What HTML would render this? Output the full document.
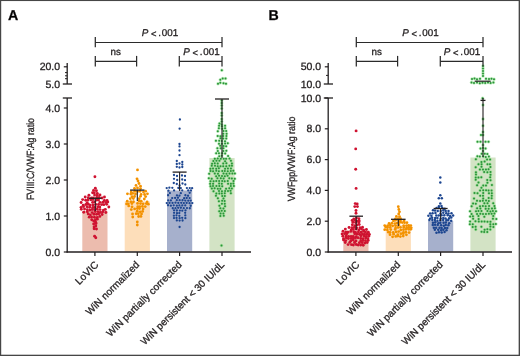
<!DOCTYPE html>
<html><head><meta charset="utf-8"><style>
html,body{margin:0;padding:0;background:#fff;width:520px;height:356px;overflow:hidden}
svg{display:block;will-change:transform}
text{font-family:"Liberation Sans", sans-serif;text-rendering:geometricPrecision;stroke:#231f20;stroke-width:0.3px}
</style></head><body>
<svg width="520" height="356" viewBox="0 0 520 356"><rect x="0" y="0" width="520" height="356" fill="#fff"/><text x="7.9" y="19.9" font-family="'Liberation Sans', sans-serif" font-size="14.2" text-anchor="start" font-weight="bold" fill="#000">A</text><text x="34.0" y="159" font-family="'Liberation Sans', sans-serif" font-size="10.4" text-anchor="middle" font-weight="normal" fill="#231f20" textLength="82" lengthAdjust="spacingAndGlyphs" transform="rotate(-90 34.0 159)">FVIII:C/VWF:Ag ratio</text><rect x="82.30" y="211" width="25.2" height="40.50" fill="#ecbcae"/><rect x="124.70" y="201.5" width="25.2" height="50.00" fill="#fddeba"/><rect x="167.00" y="190.5" width="25.2" height="61.00" fill="#a6b0cc"/><rect x="209.40" y="158" width="25.2" height="93.50" fill="#d3e3c5"/><g fill="#cf1230"><circle cx="95.32" cy="188.32" r="1.45"/><circle cx="93.54" cy="190.34" r="1.45"/><circle cx="96.43" cy="190.75" r="1.45"/><circle cx="92.60" cy="192.72" r="1.45"/><circle cx="94.30" cy="192.73" r="1.45"/><circle cx="97.27" cy="193.33" r="1.45"/><circle cx="88.93" cy="195.25" r="1.45"/><circle cx="94.56" cy="195.11" r="1.45"/><circle cx="97.27" cy="195.13" r="1.45"/><circle cx="99.98" cy="194.88" r="1.45"/><circle cx="85.20" cy="197.03" r="1.45"/><circle cx="88.22" cy="197.77" r="1.45"/><circle cx="91.44" cy="198.03" r="1.45"/><circle cx="93.35" cy="197.87" r="1.45"/><circle cx="96.77" cy="197.51" r="1.45"/><circle cx="99.15" cy="197.36" r="1.45"/><circle cx="102.11" cy="198.02" r="1.45"/><circle cx="104.46" cy="197.04" r="1.45"/><circle cx="82.65" cy="199.61" r="1.45"/><circle cx="85.69" cy="200.21" r="1.45"/><circle cx="88.08" cy="200.01" r="1.45"/><circle cx="90.88" cy="199.87" r="1.45"/><circle cx="92.99" cy="199.45" r="1.45"/><circle cx="96.83" cy="200.11" r="1.45"/><circle cx="98.55" cy="200.00" r="1.45"/><circle cx="104.40" cy="200.43" r="1.45"/><circle cx="107.07" cy="200.54" r="1.45"/><circle cx="81.12" cy="202.46" r="1.45"/><circle cx="87.14" cy="202.78" r="1.45"/><circle cx="92.57" cy="202.42" r="1.45"/><circle cx="94.81" cy="201.87" r="1.45"/><circle cx="99.94" cy="202.41" r="1.45"/><circle cx="102.83" cy="202.22" r="1.45"/><circle cx="105.85" cy="202.53" r="1.45"/><circle cx="107.83" cy="202.08" r="1.45"/><circle cx="83.18" cy="205.16" r="1.45"/><circle cx="85.83" cy="204.51" r="1.45"/><circle cx="88.36" cy="204.30" r="1.45"/><circle cx="90.27" cy="205.11" r="1.45"/><circle cx="93.08" cy="204.95" r="1.45"/><circle cx="95.73" cy="204.39" r="1.45"/><circle cx="98.55" cy="204.53" r="1.45"/><circle cx="101.60" cy="204.59" r="1.45"/><circle cx="103.78" cy="204.66" r="1.45"/><circle cx="106.68" cy="204.33" r="1.45"/><circle cx="81.05" cy="207.33" r="1.45"/><circle cx="83.52" cy="206.62" r="1.45"/><circle cx="87.06" cy="206.79" r="1.45"/><circle cx="89.71" cy="207.25" r="1.45"/><circle cx="92.77" cy="207.56" r="1.45"/><circle cx="94.57" cy="207.38" r="1.45"/><circle cx="97.69" cy="206.99" r="1.45"/><circle cx="99.77" cy="206.96" r="1.45"/><circle cx="108.83" cy="206.97" r="1.45"/><circle cx="81.30" cy="209.30" r="1.45"/><circle cx="84.55" cy="209.05" r="1.45"/><circle cx="87.35" cy="209.68" r="1.45"/><circle cx="89.94" cy="210.17" r="1.45"/><circle cx="92.21" cy="209.45" r="1.45"/><circle cx="94.55" cy="209.81" r="1.45"/><circle cx="97.23" cy="209.13" r="1.45"/><circle cx="100.06" cy="209.60" r="1.45"/><circle cx="103.45" cy="210.08" r="1.45"/><circle cx="105.34" cy="209.39" r="1.45"/><circle cx="83.76" cy="212.21" r="1.45"/><circle cx="87.32" cy="211.81" r="1.45"/><circle cx="92.18" cy="212.58" r="1.45"/><circle cx="95.17" cy="211.50" r="1.45"/><circle cx="98.09" cy="211.66" r="1.45"/><circle cx="100.42" cy="212.41" r="1.45"/><circle cx="102.81" cy="211.75" r="1.45"/><circle cx="105.82" cy="212.55" r="1.45"/><circle cx="88.21" cy="213.93" r="1.45"/><circle cx="90.34" cy="214.84" r="1.45"/><circle cx="93.94" cy="214.21" r="1.45"/><circle cx="96.59" cy="214.25" r="1.45"/><circle cx="98.62" cy="213.90" r="1.45"/><circle cx="102.12" cy="214.48" r="1.45"/><circle cx="89.23" cy="217.14" r="1.45"/><circle cx="91.61" cy="217.00" r="1.45"/><circle cx="94.44" cy="217.26" r="1.45"/><circle cx="97.29" cy="217.39" r="1.45"/><circle cx="99.84" cy="216.40" r="1.45"/><circle cx="91.72" cy="219.69" r="1.45"/><circle cx="95.46" cy="219.69" r="1.45"/><circle cx="97.30" cy="219.17" r="1.45"/><circle cx="93.73" cy="221.05" r="1.45"/><circle cx="95.66" cy="222.18" r="1.45"/><circle cx="93.67" cy="223.94" r="1.45"/><circle cx="96.03" cy="223.48" r="1.45"/><circle cx="94.11" cy="226.96" r="1.45"/><circle cx="95.78" cy="226.06" r="1.45"/><circle cx="94.13" cy="228.85" r="1.45"/><circle cx="96.48" cy="228.99" r="1.45"/><circle cx="94.90" cy="176.70" r="1.45"/><circle cx="94.60" cy="236.30" r="1.45"/><circle cx="95.80" cy="237.80" r="1.45"/></g><g fill="#f39200"><circle cx="131.20" cy="191.90" r="1.4"/><circle cx="134.70" cy="191.27" r="1.4"/><circle cx="137.43" cy="191.60" r="1.4"/><circle cx="140.02" cy="191.37" r="1.4"/><circle cx="143.49" cy="192.04" r="1.4"/><circle cx="145.63" cy="191.22" r="1.4"/><circle cx="127.46" cy="193.78" r="1.4"/><circle cx="130.77" cy="194.03" r="1.4"/><circle cx="132.78" cy="193.43" r="1.4"/><circle cx="135.46" cy="194.01" r="1.4"/><circle cx="141.12" cy="194.47" r="1.4"/><circle cx="144.58" cy="194.49" r="1.4"/><circle cx="147.45" cy="193.82" r="1.4"/><circle cx="132.00" cy="196.76" r="1.4"/><circle cx="134.54" cy="196.49" r="1.4"/><circle cx="140.50" cy="196.32" r="1.4"/><circle cx="145.65" cy="196.58" r="1.4"/><circle cx="130.28" cy="198.67" r="1.4"/><circle cx="133.34" cy="198.60" r="1.4"/><circle cx="139.19" cy="198.77" r="1.4"/><circle cx="144.31" cy="199.02" r="1.4"/><circle cx="127.27" cy="201.15" r="1.4"/><circle cx="130.82" cy="201.65" r="1.4"/><circle cx="133.48" cy="201.77" r="1.4"/><circle cx="138.99" cy="200.97" r="1.4"/><circle cx="141.23" cy="201.17" r="1.4"/><circle cx="147.13" cy="201.92" r="1.4"/><circle cx="126.56" cy="203.91" r="1.4"/><circle cx="128.34" cy="203.83" r="1.4"/><circle cx="131.91" cy="203.50" r="1.4"/><circle cx="137.58" cy="203.43" r="1.4"/><circle cx="140.48" cy="203.59" r="1.4"/><circle cx="143.13" cy="203.86" r="1.4"/><circle cx="146.29" cy="203.58" r="1.4"/><circle cx="148.31" cy="204.14" r="1.4"/><circle cx="128.70" cy="205.94" r="1.4"/><circle cx="132.02" cy="206.79" r="1.4"/><circle cx="137.73" cy="206.75" r="1.4"/><circle cx="139.77" cy="206.69" r="1.4"/><circle cx="142.42" cy="206.44" r="1.4"/><circle cx="145.25" cy="206.60" r="1.4"/><circle cx="131.27" cy="209.55" r="1.4"/><circle cx="134.63" cy="208.90" r="1.4"/><circle cx="137.37" cy="208.57" r="1.4"/><circle cx="139.54" cy="208.59" r="1.4"/><circle cx="143.06" cy="209.01" r="1.4"/><circle cx="137.23" cy="211.20" r="1.4"/><circle cx="140.25" cy="211.86" r="1.4"/><circle cx="142.61" cy="211.41" r="1.4"/><circle cx="132.54" cy="213.89" r="1.4"/><circle cx="136.17" cy="213.69" r="1.4"/><circle cx="138.32" cy="213.68" r="1.4"/><circle cx="141.52" cy="213.96" r="1.4"/><circle cx="132.75" cy="216.99" r="1.4"/><circle cx="138.62" cy="216.51" r="1.4"/><circle cx="140.96" cy="216.40" r="1.4"/><circle cx="137.50" cy="169.90" r="1.4"/><circle cx="137.00" cy="178.80" r="1.4"/><circle cx="138.00" cy="181.00" r="1.4"/><circle cx="139.00" cy="183.50" r="1.4"/><circle cx="136.00" cy="185.40" r="1.4"/><circle cx="140.50" cy="186.20" r="1.4"/><circle cx="134.50" cy="188.30" r="1.4"/><circle cx="137.50" cy="188.00" r="1.4"/><circle cx="140.50" cy="188.60" r="1.4"/><circle cx="137.30" cy="222.00" r="1.4"/><circle cx="137.30" cy="225.00" r="1.4"/></g><g fill="#1d4690"><circle cx="166.70" cy="188.06" r="1.15"/><circle cx="169.36" cy="187.71" r="1.15"/><circle cx="172.33" cy="187.84" r="1.15"/><circle cx="178.38" cy="187.99" r="1.15"/><circle cx="180.82" cy="188.08" r="1.15"/><circle cx="186.87" cy="188.10" r="1.15"/><circle cx="189.73" cy="188.05" r="1.15"/><circle cx="192.14" cy="188.22" r="1.15"/><circle cx="168.43" cy="190.63" r="1.15"/><circle cx="174.08" cy="190.47" r="1.15"/><circle cx="182.23" cy="190.33" r="1.15"/><circle cx="188.23" cy="190.38" r="1.15"/><circle cx="190.93" cy="190.41" r="1.15"/><circle cx="169.87" cy="193.11" r="1.15"/><circle cx="180.82" cy="193.22" r="1.15"/><circle cx="189.70" cy="192.83" r="1.15"/><circle cx="168.07" cy="195.24" r="1.15"/><circle cx="176.93" cy="195.45" r="1.15"/><circle cx="179.48" cy="195.66" r="1.15"/><circle cx="185.37" cy="195.23" r="1.15"/><circle cx="188.05" cy="195.73" r="1.15"/><circle cx="172.22" cy="198.06" r="1.15"/><circle cx="175.14" cy="197.94" r="1.15"/><circle cx="177.97" cy="197.73" r="1.15"/><circle cx="184.15" cy="198.24" r="1.15"/><circle cx="186.70" cy="198.01" r="1.15"/><circle cx="189.63" cy="198.04" r="1.15"/><circle cx="168.20" cy="200.46" r="1.15"/><circle cx="170.89" cy="200.38" r="1.15"/><circle cx="176.78" cy="200.21" r="1.15"/><circle cx="179.65" cy="200.21" r="1.15"/><circle cx="182.53" cy="200.24" r="1.15"/><circle cx="185.28" cy="200.61" r="1.15"/><circle cx="188.27" cy="200.64" r="1.15"/><circle cx="190.74" cy="200.61" r="1.15"/><circle cx="166.75" cy="203.06" r="1.15"/><circle cx="169.54" cy="202.89" r="1.15"/><circle cx="172.53" cy="202.88" r="1.15"/><circle cx="175.49" cy="202.72" r="1.15"/><circle cx="178.32" cy="202.89" r="1.15"/><circle cx="181.21" cy="202.84" r="1.15"/><circle cx="183.84" cy="203.12" r="1.15"/><circle cx="186.62" cy="202.90" r="1.15"/><circle cx="189.54" cy="203.21" r="1.15"/><circle cx="192.33" cy="203.09" r="1.15"/><circle cx="168.04" cy="205.27" r="1.15"/><circle cx="170.86" cy="205.68" r="1.15"/><circle cx="173.71" cy="205.37" r="1.15"/><circle cx="176.84" cy="205.68" r="1.15"/><circle cx="179.38" cy="205.38" r="1.15"/><circle cx="182.31" cy="205.41" r="1.15"/><circle cx="185.25" cy="205.45" r="1.15"/><circle cx="190.70" cy="205.77" r="1.15"/><circle cx="172.75" cy="208.26" r="1.15"/><circle cx="175.47" cy="208.20" r="1.15"/><circle cx="178.19" cy="207.87" r="1.15"/><circle cx="180.86" cy="207.74" r="1.15"/><circle cx="183.75" cy="208.19" r="1.15"/><circle cx="186.97" cy="208.12" r="1.15"/><circle cx="189.81" cy="208.24" r="1.15"/><circle cx="174.05" cy="210.30" r="1.15"/><circle cx="176.85" cy="210.51" r="1.15"/><circle cx="179.86" cy="210.57" r="1.15"/><circle cx="182.30" cy="210.72" r="1.15"/><circle cx="185.47" cy="210.41" r="1.15"/><circle cx="174.09" cy="212.80" r="1.15"/><circle cx="177.00" cy="213.18" r="1.15"/><circle cx="179.30" cy="213.08" r="1.15"/><circle cx="185.16" cy="212.86" r="1.15"/><circle cx="173.88" cy="215.67" r="1.15"/><circle cx="176.48" cy="215.28" r="1.15"/><circle cx="179.34" cy="215.78" r="1.15"/><circle cx="185.30" cy="215.39" r="1.15"/><circle cx="173.99" cy="218.05" r="1.15"/><circle cx="176.56" cy="217.90" r="1.15"/><circle cx="179.63" cy="218.13" r="1.15"/><circle cx="182.20" cy="217.81" r="1.15"/><circle cx="185.36" cy="218.17" r="1.15"/><circle cx="176.82" cy="220.46" r="1.15"/><circle cx="179.60" cy="220.62" r="1.15"/><circle cx="182.57" cy="220.48" r="1.15"/><circle cx="179.90" cy="119.50" r="1.15"/><circle cx="179.60" cy="128.70" r="1.15"/><circle cx="179.50" cy="144.00" r="1.15"/><circle cx="179.50" cy="146.40" r="1.15"/><circle cx="179.50" cy="150.50" r="1.15"/><circle cx="179.50" cy="155.20" r="1.15"/><circle cx="176.80" cy="161.00" r="1.15"/><circle cx="176.80" cy="164.00" r="1.15"/><circle cx="176.80" cy="166.80" r="1.15"/><circle cx="179.50" cy="163.50" r="1.15"/><circle cx="179.50" cy="167.50" r="1.15"/><circle cx="182.30" cy="162.00" r="1.15"/><circle cx="182.30" cy="164.50" r="1.15"/><circle cx="182.30" cy="167.00" r="1.15"/><circle cx="174.00" cy="175.00" r="1.15"/><circle cx="177.00" cy="176.00" r="1.15"/><circle cx="182.00" cy="175.50" r="1.15"/><circle cx="185.00" cy="176.00" r="1.15"/><circle cx="174.00" cy="178.80" r="1.15"/><circle cx="177.20" cy="180.00" r="1.15"/><circle cx="182.20" cy="179.50" r="1.15"/><circle cx="185.00" cy="180.20" r="1.15"/><circle cx="173.80" cy="183.00" r="1.15"/><circle cx="176.80" cy="184.00" r="1.15"/><circle cx="182.50" cy="183.50" r="1.15"/><circle cx="185.30" cy="184.50" r="1.15"/><circle cx="179.60" cy="185.50" r="1.15"/><circle cx="179.60" cy="227.00" r="1.15"/></g><g fill="#7ddb7d" opacity="0.5"><circle cx="219.04" cy="125.79" r="1.75"/><circle cx="221.94" cy="126.25" r="1.75"/><circle cx="225.06" cy="125.83" r="1.75"/><circle cx="218.90" cy="128.26" r="1.75"/><circle cx="222.26" cy="128.70" r="1.75"/><circle cx="225.08" cy="128.32" r="1.75"/><circle cx="217.79" cy="131.21" r="1.75"/><circle cx="223.51" cy="131.10" r="1.75"/><circle cx="226.16" cy="130.98" r="1.75"/><circle cx="223.33" cy="133.75" r="1.75"/><circle cx="226.58" cy="133.71" r="1.75"/><circle cx="217.71" cy="135.96" r="1.75"/><circle cx="220.43" cy="136.19" r="1.75"/><circle cx="223.18" cy="136.08" r="1.75"/><circle cx="226.37" cy="135.98" r="1.75"/><circle cx="220.50" cy="138.32" r="1.75"/><circle cx="223.32" cy="138.41" r="1.75"/><circle cx="226.24" cy="138.54" r="1.75"/><circle cx="215.94" cy="140.84" r="1.75"/><circle cx="219.17" cy="140.84" r="1.75"/><circle cx="221.81" cy="140.98" r="1.75"/><circle cx="225.02" cy="141.24" r="1.75"/><circle cx="218.97" cy="143.78" r="1.75"/><circle cx="221.95" cy="143.77" r="1.75"/><circle cx="225.09" cy="143.38" r="1.75"/><circle cx="227.77" cy="143.28" r="1.75"/><circle cx="220.26" cy="145.73" r="1.75"/><circle cx="223.62" cy="145.92" r="1.75"/><circle cx="226.11" cy="146.29" r="1.75"/><circle cx="217.39" cy="148.23" r="1.75"/><circle cx="220.66" cy="148.29" r="1.75"/><circle cx="223.44" cy="148.35" r="1.75"/><circle cx="217.81" cy="150.95" r="1.75"/><circle cx="223.30" cy="150.95" r="1.75"/><circle cx="226.30" cy="150.85" r="1.75"/><circle cx="216.20" cy="153.22" r="1.75"/><circle cx="218.95" cy="153.32" r="1.75"/><circle cx="222.22" cy="153.29" r="1.75"/><circle cx="225.16" cy="153.54" r="1.75"/><circle cx="219.27" cy="156.15" r="1.75"/><circle cx="221.76" cy="155.83" r="1.75"/><circle cx="228.05" cy="155.90" r="1.75"/><circle cx="214.84" cy="158.69" r="1.75"/><circle cx="217.74" cy="158.61" r="1.75"/><circle cx="220.80" cy="158.77" r="1.75"/><circle cx="223.73" cy="158.78" r="1.75"/><circle cx="226.08" cy="158.74" r="1.75"/><circle cx="229.53" cy="158.60" r="1.75"/><circle cx="213.38" cy="161.04" r="1.75"/><circle cx="216.46" cy="160.83" r="1.75"/><circle cx="219.35" cy="160.71" r="1.75"/><circle cx="225.09" cy="161.17" r="1.75"/><circle cx="230.93" cy="160.82" r="1.75"/><circle cx="212.09" cy="163.66" r="1.75"/><circle cx="214.77" cy="163.22" r="1.75"/><circle cx="217.71" cy="163.49" r="1.75"/><circle cx="223.23" cy="163.42" r="1.75"/><circle cx="226.36" cy="163.21" r="1.75"/><circle cx="231.90" cy="163.53" r="1.75"/><circle cx="211.74" cy="165.84" r="1.75"/><circle cx="215.03" cy="165.76" r="1.75"/><circle cx="217.72" cy="166.23" r="1.75"/><circle cx="220.51" cy="166.21" r="1.75"/><circle cx="223.19" cy="166.23" r="1.75"/><circle cx="226.23" cy="166.20" r="1.75"/><circle cx="229.43" cy="165.80" r="1.75"/><circle cx="231.96" cy="165.79" r="1.75"/><circle cx="210.43" cy="168.74" r="1.75"/><circle cx="213.00" cy="168.39" r="1.75"/><circle cx="216.19" cy="168.63" r="1.75"/><circle cx="218.85" cy="168.35" r="1.75"/><circle cx="225.06" cy="168.79" r="1.75"/><circle cx="227.91" cy="168.57" r="1.75"/><circle cx="230.95" cy="168.48" r="1.75"/><circle cx="210.57" cy="171.07" r="1.75"/><circle cx="213.08" cy="171.16" r="1.75"/><circle cx="216.30" cy="170.78" r="1.75"/><circle cx="218.89" cy="171.19" r="1.75"/><circle cx="222.24" cy="170.92" r="1.75"/><circle cx="224.81" cy="171.07" r="1.75"/><circle cx="227.74" cy="171.26" r="1.75"/><circle cx="230.79" cy="170.90" r="1.75"/><circle cx="233.31" cy="170.71" r="1.75"/><circle cx="209.13" cy="173.68" r="1.75"/><circle cx="214.80" cy="173.50" r="1.75"/><circle cx="217.91" cy="173.66" r="1.75"/><circle cx="223.54" cy="173.61" r="1.75"/><circle cx="226.42" cy="173.70" r="1.75"/><circle cx="229.51" cy="173.44" r="1.75"/><circle cx="232.39" cy="173.62" r="1.75"/><circle cx="234.89" cy="173.40" r="1.75"/><circle cx="216.14" cy="176.19" r="1.75"/><circle cx="219.05" cy="175.71" r="1.75"/><circle cx="222.02" cy="176.12" r="1.75"/><circle cx="224.82" cy="176.27" r="1.75"/><circle cx="227.59" cy="175.74" r="1.75"/><circle cx="208.84" cy="178.25" r="1.75"/><circle cx="211.68" cy="178.76" r="1.75"/><circle cx="217.44" cy="178.34" r="1.75"/><circle cx="220.82" cy="178.30" r="1.75"/><circle cx="223.56" cy="178.53" r="1.75"/><circle cx="229.26" cy="178.29" r="1.75"/><circle cx="231.87" cy="178.39" r="1.75"/><circle cx="234.79" cy="178.80" r="1.75"/><circle cx="210.52" cy="181.14" r="1.75"/><circle cx="213.57" cy="181.23" r="1.75"/><circle cx="216.24" cy="181.12" r="1.75"/><circle cx="219.13" cy="181.00" r="1.75"/><circle cx="222.21" cy="180.99" r="1.75"/><circle cx="224.70" cy="181.22" r="1.75"/><circle cx="227.73" cy="181.11" r="1.75"/><circle cx="233.53" cy="180.95" r="1.75"/><circle cx="210.11" cy="183.78" r="1.75"/><circle cx="213.09" cy="183.71" r="1.75"/><circle cx="219.13" cy="183.49" r="1.75"/><circle cx="221.81" cy="183.70" r="1.75"/><circle cx="228.05" cy="183.76" r="1.75"/><circle cx="230.91" cy="183.70" r="1.75"/><circle cx="233.36" cy="183.57" r="1.75"/><circle cx="210.49" cy="186.24" r="1.75"/><circle cx="213.02" cy="186.08" r="1.75"/><circle cx="216.41" cy="186.10" r="1.75"/><circle cx="219.34" cy="186.08" r="1.75"/><circle cx="222.20" cy="186.23" r="1.75"/><circle cx="230.82" cy="186.06" r="1.75"/><circle cx="233.89" cy="185.91" r="1.75"/><circle cx="211.85" cy="188.53" r="1.75"/><circle cx="214.60" cy="188.32" r="1.75"/><circle cx="217.82" cy="188.75" r="1.75"/><circle cx="220.32" cy="188.79" r="1.75"/><circle cx="226.05" cy="188.71" r="1.75"/><circle cx="229.32" cy="188.21" r="1.75"/><circle cx="231.87" cy="188.49" r="1.75"/><circle cx="213.53" cy="191.15" r="1.75"/><circle cx="219.03" cy="191.06" r="1.75"/><circle cx="221.95" cy="191.28" r="1.75"/><circle cx="225.12" cy="190.88" r="1.75"/><circle cx="227.97" cy="191.12" r="1.75"/><circle cx="230.50" cy="190.71" r="1.75"/><circle cx="216.35" cy="193.44" r="1.75"/><circle cx="219.31" cy="193.39" r="1.75"/><circle cx="221.85" cy="193.51" r="1.75"/><circle cx="224.76" cy="193.37" r="1.75"/><circle cx="230.85" cy="193.25" r="1.75"/><circle cx="215.96" cy="195.83" r="1.75"/><circle cx="222.23" cy="196.00" r="1.75"/><circle cx="224.80" cy="195.97" r="1.75"/><circle cx="217.86" cy="198.27" r="1.75"/><circle cx="223.49" cy="198.60" r="1.75"/><circle cx="218.91" cy="201.13" r="1.75"/><circle cx="222.16" cy="200.81" r="1.75"/><circle cx="224.62" cy="200.89" r="1.75"/><circle cx="221.92" cy="203.79" r="1.75"/><circle cx="224.73" cy="203.77" r="1.75"/><circle cx="219.39" cy="205.73" r="1.75"/><circle cx="225.00" cy="206.21" r="1.75"/><circle cx="220.37" cy="208.28" r="1.75"/><circle cx="223.44" cy="208.53" r="1.75"/><circle cx="219.25" cy="211.20" r="1.75"/><circle cx="221.72" cy="210.79" r="1.75"/><circle cx="224.74" cy="211.04" r="1.75"/><circle cx="220.62" cy="213.41" r="1.75"/><circle cx="223.37" cy="213.62" r="1.75"/><circle cx="220.36" cy="215.91" r="1.75"/><circle cx="223.74" cy="215.83" r="1.75"/><circle cx="221.80" cy="70.30" r="1.75"/><circle cx="220.30" cy="79.70" r="1.75"/><circle cx="222.70" cy="78.50" r="1.75"/><circle cx="225.50" cy="78.50" r="1.75"/><circle cx="218.00" cy="83.80" r="1.75"/><circle cx="220.30" cy="82.80" r="1.75"/><circle cx="223.50" cy="83.20" r="1.75"/><circle cx="226.00" cy="83.80" r="1.75"/><circle cx="221.70" cy="100.50" r="1.75"/><circle cx="221.70" cy="103.00" r="1.75"/><circle cx="221.70" cy="105.50" r="1.75"/><circle cx="221.70" cy="108.50" r="1.75"/><circle cx="221.70" cy="113.00" r="1.75"/><circle cx="221.70" cy="115.50" r="1.75"/><circle cx="221.70" cy="119.00" r="1.75"/><circle cx="221.70" cy="121.50" r="1.75"/><circle cx="219.50" cy="123.50" r="1.75"/><circle cx="221.70" cy="124.50" r="1.75"/><circle cx="221.50" cy="245.40" r="1.75"/></g><g fill="#2a9438"><circle cx="219.04" cy="125.79" r="1.0"/><circle cx="221.94" cy="126.25" r="1.0"/><circle cx="225.06" cy="125.83" r="1.0"/><circle cx="218.90" cy="128.26" r="1.0"/><circle cx="222.26" cy="128.70" r="1.0"/><circle cx="225.08" cy="128.32" r="1.0"/><circle cx="217.79" cy="131.21" r="1.0"/><circle cx="223.51" cy="131.10" r="1.0"/><circle cx="226.16" cy="130.98" r="1.0"/><circle cx="223.33" cy="133.75" r="1.0"/><circle cx="226.58" cy="133.71" r="1.0"/><circle cx="217.71" cy="135.96" r="1.0"/><circle cx="220.43" cy="136.19" r="1.0"/><circle cx="223.18" cy="136.08" r="1.0"/><circle cx="226.37" cy="135.98" r="1.0"/><circle cx="220.50" cy="138.32" r="1.0"/><circle cx="223.32" cy="138.41" r="1.0"/><circle cx="226.24" cy="138.54" r="1.0"/><circle cx="215.94" cy="140.84" r="1.0"/><circle cx="219.17" cy="140.84" r="1.0"/><circle cx="221.81" cy="140.98" r="1.0"/><circle cx="225.02" cy="141.24" r="1.0"/><circle cx="218.97" cy="143.78" r="1.0"/><circle cx="221.95" cy="143.77" r="1.0"/><circle cx="225.09" cy="143.38" r="1.0"/><circle cx="227.77" cy="143.28" r="1.0"/><circle cx="220.26" cy="145.73" r="1.0"/><circle cx="223.62" cy="145.92" r="1.0"/><circle cx="226.11" cy="146.29" r="1.0"/><circle cx="217.39" cy="148.23" r="1.0"/><circle cx="220.66" cy="148.29" r="1.0"/><circle cx="223.44" cy="148.35" r="1.0"/><circle cx="217.81" cy="150.95" r="1.0"/><circle cx="223.30" cy="150.95" r="1.0"/><circle cx="226.30" cy="150.85" r="1.0"/><circle cx="216.20" cy="153.22" r="1.0"/><circle cx="218.95" cy="153.32" r="1.0"/><circle cx="222.22" cy="153.29" r="1.0"/><circle cx="225.16" cy="153.54" r="1.0"/><circle cx="219.27" cy="156.15" r="1.0"/><circle cx="221.76" cy="155.83" r="1.0"/><circle cx="228.05" cy="155.90" r="1.0"/><circle cx="214.84" cy="158.69" r="1.0"/><circle cx="217.74" cy="158.61" r="1.0"/><circle cx="220.80" cy="158.77" r="1.0"/><circle cx="223.73" cy="158.78" r="1.0"/><circle cx="226.08" cy="158.74" r="1.0"/><circle cx="229.53" cy="158.60" r="1.0"/><circle cx="213.38" cy="161.04" r="1.0"/><circle cx="216.46" cy="160.83" r="1.0"/><circle cx="219.35" cy="160.71" r="1.0"/><circle cx="225.09" cy="161.17" r="1.0"/><circle cx="230.93" cy="160.82" r="1.0"/><circle cx="212.09" cy="163.66" r="1.0"/><circle cx="214.77" cy="163.22" r="1.0"/><circle cx="217.71" cy="163.49" r="1.0"/><circle cx="223.23" cy="163.42" r="1.0"/><circle cx="226.36" cy="163.21" r="1.0"/><circle cx="231.90" cy="163.53" r="1.0"/><circle cx="211.74" cy="165.84" r="1.0"/><circle cx="215.03" cy="165.76" r="1.0"/><circle cx="217.72" cy="166.23" r="1.0"/><circle cx="220.51" cy="166.21" r="1.0"/><circle cx="223.19" cy="166.23" r="1.0"/><circle cx="226.23" cy="166.20" r="1.0"/><circle cx="229.43" cy="165.80" r="1.0"/><circle cx="231.96" cy="165.79" r="1.0"/><circle cx="210.43" cy="168.74" r="1.0"/><circle cx="213.00" cy="168.39" r="1.0"/><circle cx="216.19" cy="168.63" r="1.0"/><circle cx="218.85" cy="168.35" r="1.0"/><circle cx="225.06" cy="168.79" r="1.0"/><circle cx="227.91" cy="168.57" r="1.0"/><circle cx="230.95" cy="168.48" r="1.0"/><circle cx="210.57" cy="171.07" r="1.0"/><circle cx="213.08" cy="171.16" r="1.0"/><circle cx="216.30" cy="170.78" r="1.0"/><circle cx="218.89" cy="171.19" r="1.0"/><circle cx="222.24" cy="170.92" r="1.0"/><circle cx="224.81" cy="171.07" r="1.0"/><circle cx="227.74" cy="171.26" r="1.0"/><circle cx="230.79" cy="170.90" r="1.0"/><circle cx="233.31" cy="170.71" r="1.0"/><circle cx="209.13" cy="173.68" r="1.0"/><circle cx="214.80" cy="173.50" r="1.0"/><circle cx="217.91" cy="173.66" r="1.0"/><circle cx="223.54" cy="173.61" r="1.0"/><circle cx="226.42" cy="173.70" r="1.0"/><circle cx="229.51" cy="173.44" r="1.0"/><circle cx="232.39" cy="173.62" r="1.0"/><circle cx="234.89" cy="173.40" r="1.0"/><circle cx="216.14" cy="176.19" r="1.0"/><circle cx="219.05" cy="175.71" r="1.0"/><circle cx="222.02" cy="176.12" r="1.0"/><circle cx="224.82" cy="176.27" r="1.0"/><circle cx="227.59" cy="175.74" r="1.0"/><circle cx="208.84" cy="178.25" r="1.0"/><circle cx="211.68" cy="178.76" r="1.0"/><circle cx="217.44" cy="178.34" r="1.0"/><circle cx="220.82" cy="178.30" r="1.0"/><circle cx="223.56" cy="178.53" r="1.0"/><circle cx="229.26" cy="178.29" r="1.0"/><circle cx="231.87" cy="178.39" r="1.0"/><circle cx="234.79" cy="178.80" r="1.0"/><circle cx="210.52" cy="181.14" r="1.0"/><circle cx="213.57" cy="181.23" r="1.0"/><circle cx="216.24" cy="181.12" r="1.0"/><circle cx="219.13" cy="181.00" r="1.0"/><circle cx="222.21" cy="180.99" r="1.0"/><circle cx="224.70" cy="181.22" r="1.0"/><circle cx="227.73" cy="181.11" r="1.0"/><circle cx="233.53" cy="180.95" r="1.0"/><circle cx="210.11" cy="183.78" r="1.0"/><circle cx="213.09" cy="183.71" r="1.0"/><circle cx="219.13" cy="183.49" r="1.0"/><circle cx="221.81" cy="183.70" r="1.0"/><circle cx="228.05" cy="183.76" r="1.0"/><circle cx="230.91" cy="183.70" r="1.0"/><circle cx="233.36" cy="183.57" r="1.0"/><circle cx="210.49" cy="186.24" r="1.0"/><circle cx="213.02" cy="186.08" r="1.0"/><circle cx="216.41" cy="186.10" r="1.0"/><circle cx="219.34" cy="186.08" r="1.0"/><circle cx="222.20" cy="186.23" r="1.0"/><circle cx="230.82" cy="186.06" r="1.0"/><circle cx="233.89" cy="185.91" r="1.0"/><circle cx="211.85" cy="188.53" r="1.0"/><circle cx="214.60" cy="188.32" r="1.0"/><circle cx="217.82" cy="188.75" r="1.0"/><circle cx="220.32" cy="188.79" r="1.0"/><circle cx="226.05" cy="188.71" r="1.0"/><circle cx="229.32" cy="188.21" r="1.0"/><circle cx="231.87" cy="188.49" r="1.0"/><circle cx="213.53" cy="191.15" r="1.0"/><circle cx="219.03" cy="191.06" r="1.0"/><circle cx="221.95" cy="191.28" r="1.0"/><circle cx="225.12" cy="190.88" r="1.0"/><circle cx="227.97" cy="191.12" r="1.0"/><circle cx="230.50" cy="190.71" r="1.0"/><circle cx="216.35" cy="193.44" r="1.0"/><circle cx="219.31" cy="193.39" r="1.0"/><circle cx="221.85" cy="193.51" r="1.0"/><circle cx="224.76" cy="193.37" r="1.0"/><circle cx="230.85" cy="193.25" r="1.0"/><circle cx="215.96" cy="195.83" r="1.0"/><circle cx="222.23" cy="196.00" r="1.0"/><circle cx="224.80" cy="195.97" r="1.0"/><circle cx="217.86" cy="198.27" r="1.0"/><circle cx="223.49" cy="198.60" r="1.0"/><circle cx="218.91" cy="201.13" r="1.0"/><circle cx="222.16" cy="200.81" r="1.0"/><circle cx="224.62" cy="200.89" r="1.0"/><circle cx="221.92" cy="203.79" r="1.0"/><circle cx="224.73" cy="203.77" r="1.0"/><circle cx="219.39" cy="205.73" r="1.0"/><circle cx="225.00" cy="206.21" r="1.0"/><circle cx="220.37" cy="208.28" r="1.0"/><circle cx="223.44" cy="208.53" r="1.0"/><circle cx="219.25" cy="211.20" r="1.0"/><circle cx="221.72" cy="210.79" r="1.0"/><circle cx="224.74" cy="211.04" r="1.0"/><circle cx="220.62" cy="213.41" r="1.0"/><circle cx="223.37" cy="213.62" r="1.0"/><circle cx="220.36" cy="215.91" r="1.0"/><circle cx="223.74" cy="215.83" r="1.0"/><circle cx="221.80" cy="70.30" r="1.0"/><circle cx="220.30" cy="79.70" r="1.0"/><circle cx="222.70" cy="78.50" r="1.0"/><circle cx="225.50" cy="78.50" r="1.0"/><circle cx="218.00" cy="83.80" r="1.0"/><circle cx="220.30" cy="82.80" r="1.0"/><circle cx="223.50" cy="83.20" r="1.0"/><circle cx="226.00" cy="83.80" r="1.0"/><circle cx="221.70" cy="100.50" r="1.0"/><circle cx="221.70" cy="103.00" r="1.0"/><circle cx="221.70" cy="105.50" r="1.0"/><circle cx="221.70" cy="108.50" r="1.0"/><circle cx="221.70" cy="113.00" r="1.0"/><circle cx="221.70" cy="115.50" r="1.0"/><circle cx="221.70" cy="119.00" r="1.0"/><circle cx="221.70" cy="121.50" r="1.0"/><circle cx="219.50" cy="123.50" r="1.0"/><circle cx="221.70" cy="124.50" r="1.0"/><circle cx="221.50" cy="245.40" r="1.0"/></g><line x1="95.30" y1="198.30" x2="95.30" y2="211.00" stroke="#231f20" stroke-width="1.1"/><line x1="89.00" y1="198.30" x2="101.60" y2="198.30" stroke="#231f20" stroke-width="1.3"/><line x1="137.30" y1="190.10" x2="137.30" y2="201.00" stroke="#231f20" stroke-width="1.1"/><line x1="130.10" y1="190.10" x2="144.50" y2="190.10" stroke="#231f20" stroke-width="1.3"/><line x1="179.60" y1="172.10" x2="179.60" y2="191.00" stroke="#231f20" stroke-width="1.1"/><line x1="172.60" y1="172.10" x2="186.60" y2="172.10" stroke="#231f20" stroke-width="1.3"/><line x1="222.00" y1="99.00" x2="222.00" y2="158.00" stroke="#231f20" stroke-width="1.1"/><line x1="215.00" y1="99.00" x2="229.00" y2="99.00" stroke="#231f20" stroke-width="1.3"/><line x1="67.20" y1="98.00" x2="67.20" y2="252.60" stroke="#231f20" stroke-width="1.3"/><line x1="62.80" y1="98.00" x2="72.00" y2="98.00" stroke="#231f20" stroke-width="1.3"/><line x1="63.80" y1="252.00" x2="67.20" y2="252.00" stroke="#231f20" stroke-width="1.2"/><text x="60.1" y="255.65" font-family="'Liberation Sans', sans-serif" font-size="10.5" text-anchor="end" font-weight="normal" fill="#231f20">0.0</text><line x1="63.80" y1="216.00" x2="67.20" y2="216.00" stroke="#231f20" stroke-width="1.2"/><text x="60.1" y="219.65" font-family="'Liberation Sans', sans-serif" font-size="10.5" text-anchor="end" font-weight="normal" fill="#231f20">1.0</text><line x1="63.80" y1="180.00" x2="67.20" y2="180.00" stroke="#231f20" stroke-width="1.2"/><text x="60.1" y="183.65" font-family="'Liberation Sans', sans-serif" font-size="10.5" text-anchor="end" font-weight="normal" fill="#231f20">2.0</text><line x1="63.80" y1="144.00" x2="67.20" y2="144.00" stroke="#231f20" stroke-width="1.2"/><text x="60.1" y="147.65" font-family="'Liberation Sans', sans-serif" font-size="10.5" text-anchor="end" font-weight="normal" fill="#231f20">3.0</text><line x1="63.80" y1="108.00" x2="67.20" y2="108.00" stroke="#231f20" stroke-width="1.2"/><text x="60.1" y="111.65" font-family="'Liberation Sans', sans-serif" font-size="10.5" text-anchor="end" font-weight="normal" fill="#231f20">4.0</text><line x1="67.20" y1="63.00" x2="67.20" y2="84.00" stroke="#231f20" stroke-width="1.3"/><line x1="62.80" y1="84.00" x2="72.00" y2="84.00" stroke="#231f20" stroke-width="1.3"/><line x1="63.80" y1="66.80" x2="67.20" y2="66.80" stroke="#231f20" stroke-width="1.2"/><line x1="65.00" y1="72.60" x2="67.20" y2="72.60" stroke="#231f20" stroke-width="1.0"/><line x1="65.00" y1="75.80" x2="67.20" y2="75.80" stroke="#231f20" stroke-width="1.0"/><line x1="65.00" y1="78.70" x2="67.20" y2="78.70" stroke="#231f20" stroke-width="1.0"/><text x="60.1" y="70.45" font-family="'Liberation Sans', sans-serif" font-size="10.5" text-anchor="end" font-weight="normal" fill="#231f20">20.0</text><text x="60.1" y="87.65" font-family="'Liberation Sans', sans-serif" font-size="10.5" text-anchor="end" font-weight="normal" fill="#231f20">5.0</text><line x1="66.60" y1="252.00" x2="251.00" y2="252.00" stroke="#231f20" stroke-width="1.5"/><line x1="94.90" y1="252.00" x2="94.90" y2="256.00" stroke="#231f20" stroke-width="1.2"/><line x1="137.30" y1="252.00" x2="137.30" y2="256.00" stroke="#231f20" stroke-width="1.2"/><line x1="179.60" y1="252.00" x2="179.60" y2="256.00" stroke="#231f20" stroke-width="1.2"/><line x1="222.00" y1="252.00" x2="222.00" y2="256.00" stroke="#231f20" stroke-width="1.2"/><text x="99.2" y="265.3" font-family="'Liberation Sans', sans-serif" font-size="10.1" text-anchor="end" font-weight="normal" fill="#231f20" transform="rotate(-45 99.2 265.3)">LoVIC</text><text x="140.10000000000002" y="265.4" font-family="'Liberation Sans', sans-serif" font-size="10.1" text-anchor="end" font-weight="normal" fill="#231f20" transform="rotate(-45 140.10000000000002 265.4)">WiN normalized</text><text x="182.4" y="265.4" font-family="'Liberation Sans', sans-serif" font-size="10.1" text-anchor="end" font-weight="normal" fill="#231f20" transform="rotate(-45 182.4 265.4)">WiN partially corrected</text><text x="225.0" y="265.4" font-family="'Liberation Sans', sans-serif" font-size="10.1" text-anchor="end" font-weight="normal" fill="#231f20" textLength="113.4" lengthAdjust="spacingAndGlyphs" transform="rotate(-45 225.0 265.4)">WiN persistent &lt; 30 IU/dL</text><line x1="95.30" y1="42.50" x2="222.00" y2="42.50" stroke="#2b2b2b" stroke-width="1.15"/><line x1="95.30" y1="36.90" x2="95.30" y2="47.30" stroke="#2b2b2b" stroke-width="1.25"/><line x1="222.00" y1="36.90" x2="222.00" y2="47.30" stroke="#2b2b2b" stroke-width="1.25"/><line x1="95.30" y1="61.40" x2="136.60" y2="61.40" stroke="#2b2b2b" stroke-width="1.15"/><line x1="95.30" y1="55.90" x2="95.30" y2="66.50" stroke="#2b2b2b" stroke-width="1.25"/><line x1="136.60" y1="55.90" x2="136.60" y2="66.50" stroke="#2b2b2b" stroke-width="1.25"/><line x1="179.30" y1="61.40" x2="222.00" y2="61.40" stroke="#2b2b2b" stroke-width="1.15"/><line x1="179.30" y1="55.90" x2="179.30" y2="66.50" stroke="#2b2b2b" stroke-width="1.25"/><line x1="222.00" y1="55.90" x2="222.00" y2="66.50" stroke="#2b2b2b" stroke-width="1.25"/><text y="35.9" font-size="9.8" fill="#231f20"><tspan x="141.80" font-style="italic">P</tspan><tspan x="151.10" dy="0.7" font-size="9.4">&lt;</tspan><tspan x="158.30" dy="-0.7">.</tspan><tspan x="161.80">001</tspan></text><text y="54.8" font-size="9.8" fill="#231f20"><tspan x="183.30" font-style="italic">P</tspan><tspan x="192.60" dy="0.7" font-size="9.4">&lt;</tspan><tspan x="199.80" dy="-0.7">.</tspan><tspan x="203.30">001</tspan></text><text x="115.7" y="55.0" font-family="'Liberation Sans', sans-serif" font-size="9.8" text-anchor="middle" font-weight="normal" fill="#231f20">ns</text><text x="268.5" y="19.9" font-family="'Liberation Sans', sans-serif" font-size="14.2" text-anchor="start" font-weight="bold" fill="#000">B</text><text x="295.0" y="159" font-family="'Liberation Sans', sans-serif" font-size="10.4" text-anchor="middle" font-weight="normal" fill="#231f20" textLength="84.7" lengthAdjust="spacingAndGlyphs" transform="rotate(-90 295.0 159)">VWFpp/VWF:Ag ratio</text><rect x="343.30" y="230.5" width="25.2" height="21.00" fill="#ecbcae"/><rect x="385.70" y="225" width="25.2" height="26.50" fill="#fddeba"/><rect x="428.00" y="221" width="25.2" height="30.50" fill="#a6b0cc"/><rect x="470.40" y="157.5" width="25.2" height="94.00" fill="#d3e3c5"/><g fill="#cf1230"><circle cx="353.75" cy="219.03" r="1.45"/><circle cx="356.41" cy="217.93" r="1.45"/><circle cx="358.93" cy="218.68" r="1.45"/><circle cx="352.11" cy="220.40" r="1.45"/><circle cx="354.74" cy="220.12" r="1.45"/><circle cx="356.89" cy="221.20" r="1.45"/><circle cx="359.24" cy="221.06" r="1.45"/><circle cx="352.95" cy="222.30" r="1.45"/><circle cx="355.55" cy="222.56" r="1.45"/><circle cx="358.85" cy="222.65" r="1.45"/><circle cx="352.36" cy="224.75" r="1.45"/><circle cx="354.88" cy="225.66" r="1.45"/><circle cx="356.91" cy="224.93" r="1.45"/><circle cx="359.22" cy="224.58" r="1.45"/><circle cx="349.05" cy="227.51" r="1.45"/><circle cx="351.92" cy="227.68" r="1.45"/><circle cx="354.43" cy="227.28" r="1.45"/><circle cx="356.62" cy="227.87" r="1.45"/><circle cx="359.95" cy="227.71" r="1.45"/><circle cx="362.50" cy="227.14" r="1.45"/><circle cx="345.36" cy="229.12" r="1.45"/><circle cx="351.21" cy="230.02" r="1.45"/><circle cx="353.21" cy="229.33" r="1.45"/><circle cx="356.23" cy="229.03" r="1.45"/><circle cx="358.76" cy="229.93" r="1.45"/><circle cx="361.43" cy="229.01" r="1.45"/><circle cx="363.53" cy="230.00" r="1.45"/><circle cx="366.41" cy="229.55" r="1.45"/><circle cx="343.01" cy="231.19" r="1.45"/><circle cx="346.13" cy="232.30" r="1.45"/><circle cx="347.86" cy="232.28" r="1.45"/><circle cx="350.79" cy="231.38" r="1.45"/><circle cx="353.79" cy="231.65" r="1.45"/><circle cx="355.37" cy="232.20" r="1.45"/><circle cx="358.39" cy="232.11" r="1.45"/><circle cx="361.18" cy="232.24" r="1.45"/><circle cx="363.75" cy="231.23" r="1.45"/><circle cx="365.48" cy="232.11" r="1.45"/><circle cx="368.34" cy="232.30" r="1.45"/><circle cx="342.09" cy="233.89" r="1.45"/><circle cx="344.62" cy="233.65" r="1.45"/><circle cx="346.73" cy="233.75" r="1.45"/><circle cx="354.65" cy="233.71" r="1.45"/><circle cx="356.88" cy="234.24" r="1.45"/><circle cx="359.48" cy="234.24" r="1.45"/><circle cx="362.38" cy="234.10" r="1.45"/><circle cx="364.49" cy="234.15" r="1.45"/><circle cx="367.13" cy="234.22" r="1.45"/><circle cx="369.40" cy="234.43" r="1.45"/><circle cx="342.81" cy="236.16" r="1.45"/><circle cx="346.11" cy="236.06" r="1.45"/><circle cx="348.58" cy="236.46" r="1.45"/><circle cx="351.07" cy="236.39" r="1.45"/><circle cx="353.22" cy="236.51" r="1.45"/><circle cx="356.13" cy="236.67" r="1.45"/><circle cx="360.94" cy="235.70" r="1.45"/><circle cx="363.92" cy="236.07" r="1.45"/><circle cx="366.16" cy="236.38" r="1.45"/><circle cx="368.74" cy="236.20" r="1.45"/><circle cx="343.55" cy="238.63" r="1.45"/><circle cx="346.16" cy="237.73" r="1.45"/><circle cx="348.33" cy="238.48" r="1.45"/><circle cx="351.12" cy="238.46" r="1.45"/><circle cx="353.37" cy="237.97" r="1.45"/><circle cx="355.46" cy="238.08" r="1.45"/><circle cx="358.03" cy="237.74" r="1.45"/><circle cx="360.76" cy="238.43" r="1.45"/><circle cx="363.09" cy="238.78" r="1.45"/><circle cx="365.79" cy="238.03" r="1.45"/><circle cx="367.94" cy="238.70" r="1.45"/><circle cx="343.54" cy="240.01" r="1.45"/><circle cx="345.71" cy="240.60" r="1.45"/><circle cx="350.80" cy="240.88" r="1.45"/><circle cx="353.24" cy="240.07" r="1.45"/><circle cx="355.98" cy="241.05" r="1.45"/><circle cx="360.72" cy="240.97" r="1.45"/><circle cx="362.93" cy="240.58" r="1.45"/><circle cx="365.47" cy="240.66" r="1.45"/><circle cx="368.25" cy="240.42" r="1.45"/><circle cx="345.22" cy="242.56" r="1.45"/><circle cx="349.76" cy="242.41" r="1.45"/><circle cx="354.55" cy="242.48" r="1.45"/><circle cx="359.39" cy="242.67" r="1.45"/><circle cx="362.30" cy="242.63" r="1.45"/><circle cx="364.99" cy="243.09" r="1.45"/><circle cx="367.19" cy="242.43" r="1.45"/><circle cx="348.09" cy="244.62" r="1.45"/><circle cx="351.49" cy="244.65" r="1.45"/><circle cx="353.37" cy="245.07" r="1.45"/><circle cx="356.19" cy="244.44" r="1.45"/><circle cx="358.16" cy="244.94" r="1.45"/><circle cx="360.66" cy="244.94" r="1.45"/><circle cx="363.23" cy="245.19" r="1.45"/><circle cx="356.10" cy="130.90" r="1.45"/><circle cx="355.70" cy="148.90" r="1.45"/><circle cx="355.70" cy="169.30" r="1.45"/><circle cx="356.10" cy="188.40" r="1.45"/><circle cx="355.20" cy="203.60" r="1.45"/><circle cx="357.20" cy="204.00" r="1.45"/><circle cx="354.80" cy="206.60" r="1.45"/><circle cx="357.40" cy="206.60" r="1.45"/><circle cx="356.00" cy="210.50" r="1.45"/><circle cx="356.00" cy="213.20" r="1.45"/></g><g fill="#f39200"><circle cx="398.69" cy="213.98" r="1.4"/><circle cx="396.40" cy="216.45" r="1.4"/><circle cx="399.56" cy="216.56" r="1.4"/><circle cx="395.43" cy="218.86" r="1.4"/><circle cx="398.20" cy="218.55" r="1.4"/><circle cx="400.53" cy="218.56" r="1.4"/><circle cx="393.46" cy="220.97" r="1.4"/><circle cx="395.50" cy="220.26" r="1.4"/><circle cx="398.67" cy="220.68" r="1.4"/><circle cx="400.54" cy="220.91" r="1.4"/><circle cx="404.04" cy="220.86" r="1.4"/><circle cx="389.03" cy="223.52" r="1.4"/><circle cx="391.82" cy="223.17" r="1.4"/><circle cx="394.77" cy="223.57" r="1.4"/><circle cx="396.83" cy="223.12" r="1.4"/><circle cx="399.71" cy="222.51" r="1.4"/><circle cx="402.23" cy="222.54" r="1.4"/><circle cx="404.57" cy="222.64" r="1.4"/><circle cx="406.97" cy="222.65" r="1.4"/><circle cx="384.72" cy="225.58" r="1.4"/><circle cx="387.70" cy="225.74" r="1.4"/><circle cx="390.27" cy="225.10" r="1.4"/><circle cx="392.65" cy="225.85" r="1.4"/><circle cx="395.61" cy="225.55" r="1.4"/><circle cx="398.88" cy="224.94" r="1.4"/><circle cx="403.70" cy="225.72" r="1.4"/><circle cx="406.50" cy="225.61" r="1.4"/><circle cx="408.67" cy="225.50" r="1.4"/><circle cx="410.80" cy="225.55" r="1.4"/><circle cx="385.64" cy="227.11" r="1.4"/><circle cx="387.45" cy="227.61" r="1.4"/><circle cx="390.21" cy="227.44" r="1.4"/><circle cx="395.59" cy="227.96" r="1.4"/><circle cx="398.02" cy="227.47" r="1.4"/><circle cx="400.47" cy="227.35" r="1.4"/><circle cx="403.87" cy="227.29" r="1.4"/><circle cx="406.66" cy="228.01" r="1.4"/><circle cx="408.82" cy="227.28" r="1.4"/><circle cx="411.29" cy="227.85" r="1.4"/><circle cx="384.71" cy="229.69" r="1.4"/><circle cx="387.34" cy="230.08" r="1.4"/><circle cx="390.76" cy="229.58" r="1.4"/><circle cx="395.17" cy="229.38" r="1.4"/><circle cx="400.81" cy="230.09" r="1.4"/><circle cx="403.49" cy="229.71" r="1.4"/><circle cx="405.93" cy="229.32" r="1.4"/><circle cx="408.83" cy="229.32" r="1.4"/><circle cx="410.82" cy="229.28" r="1.4"/><circle cx="388.38" cy="232.16" r="1.4"/><circle cx="390.05" cy="232.40" r="1.4"/><circle cx="393.24" cy="232.49" r="1.4"/><circle cx="396.17" cy="231.94" r="1.4"/><circle cx="398.65" cy="231.56" r="1.4"/><circle cx="403.43" cy="232.33" r="1.4"/><circle cx="405.83" cy="232.25" r="1.4"/><circle cx="409.06" cy="232.57" r="1.4"/><circle cx="390.00" cy="234.68" r="1.4"/><circle cx="393.66" cy="234.17" r="1.4"/><circle cx="397.80" cy="234.63" r="1.4"/><circle cx="400.94" cy="233.69" r="1.4"/><circle cx="403.34" cy="233.71" r="1.4"/><circle cx="406.42" cy="234.79" r="1.4"/><circle cx="392.59" cy="236.78" r="1.4"/><circle cx="395.76" cy="236.46" r="1.4"/><circle cx="397.79" cy="235.99" r="1.4"/><circle cx="400.34" cy="236.53" r="1.4"/><circle cx="403.24" cy="236.08" r="1.4"/><circle cx="398.30" cy="206.70" r="1.4"/><circle cx="398.80" cy="209.50" r="1.4"/><circle cx="399.50" cy="211.80" r="1.4"/></g><g fill="#1d4690"><circle cx="438.90" cy="206.15" r="1.25"/><circle cx="441.52" cy="206.04" r="1.25"/><circle cx="436.56" cy="207.94" r="1.25"/><circle cx="438.82" cy="207.99" r="1.25"/><circle cx="442.28" cy="208.02" r="1.25"/><circle cx="444.78" cy="208.85" r="1.25"/><circle cx="432.98" cy="210.35" r="1.25"/><circle cx="434.99" cy="210.44" r="1.25"/><circle cx="437.71" cy="211.12" r="1.25"/><circle cx="440.68" cy="210.94" r="1.25"/><circle cx="443.35" cy="210.36" r="1.25"/><circle cx="445.71" cy="210.98" r="1.25"/><circle cx="448.51" cy="210.89" r="1.25"/><circle cx="430.09" cy="213.40" r="1.25"/><circle cx="432.57" cy="213.23" r="1.25"/><circle cx="435.43" cy="212.99" r="1.25"/><circle cx="440.52" cy="213.46" r="1.25"/><circle cx="443.29" cy="212.74" r="1.25"/><circle cx="446.26" cy="213.27" r="1.25"/><circle cx="448.51" cy="213.40" r="1.25"/><circle cx="451.48" cy="213.16" r="1.25"/><circle cx="428.42" cy="215.76" r="1.25"/><circle cx="431.35" cy="215.75" r="1.25"/><circle cx="436.33" cy="215.49" r="1.25"/><circle cx="438.77" cy="215.56" r="1.25"/><circle cx="441.57" cy="215.16" r="1.25"/><circle cx="444.28" cy="215.35" r="1.25"/><circle cx="447.72" cy="215.18" r="1.25"/><circle cx="450.10" cy="215.98" r="1.25"/><circle cx="453.11" cy="215.38" r="1.25"/><circle cx="430.18" cy="218.46" r="1.25"/><circle cx="432.18" cy="217.73" r="1.25"/><circle cx="435.18" cy="218.09" r="1.25"/><circle cx="437.40" cy="217.92" r="1.25"/><circle cx="440.67" cy="218.45" r="1.25"/><circle cx="443.32" cy="218.12" r="1.25"/><circle cx="445.55" cy="218.40" r="1.25"/><circle cx="449.07" cy="218.30" r="1.25"/><circle cx="451.30" cy="217.60" r="1.25"/><circle cx="429.37" cy="220.11" r="1.25"/><circle cx="432.34" cy="219.95" r="1.25"/><circle cx="434.85" cy="220.00" r="1.25"/><circle cx="437.43" cy="220.77" r="1.25"/><circle cx="440.25" cy="220.15" r="1.25"/><circle cx="443.16" cy="220.02" r="1.25"/><circle cx="446.49" cy="220.37" r="1.25"/><circle cx="448.29" cy="220.00" r="1.25"/><circle cx="451.16" cy="220.73" r="1.25"/><circle cx="432.95" cy="222.83" r="1.25"/><circle cx="435.24" cy="222.33" r="1.25"/><circle cx="438.38" cy="223.16" r="1.25"/><circle cx="440.36" cy="222.67" r="1.25"/><circle cx="443.57" cy="222.83" r="1.25"/><circle cx="445.83" cy="222.52" r="1.25"/><circle cx="449.18" cy="223.15" r="1.25"/><circle cx="432.74" cy="224.93" r="1.25"/><circle cx="435.06" cy="224.73" r="1.25"/><circle cx="437.68" cy="224.96" r="1.25"/><circle cx="441.06" cy="225.15" r="1.25"/><circle cx="443.79" cy="225.66" r="1.25"/><circle cx="445.72" cy="224.93" r="1.25"/><circle cx="448.40" cy="225.32" r="1.25"/><circle cx="433.83" cy="227.75" r="1.25"/><circle cx="436.13" cy="227.76" r="1.25"/><circle cx="439.53" cy="227.85" r="1.25"/><circle cx="441.63" cy="227.89" r="1.25"/><circle cx="444.95" cy="228.07" r="1.25"/><circle cx="447.25" cy="228.05" r="1.25"/><circle cx="434.83" cy="229.65" r="1.25"/><circle cx="438.21" cy="229.65" r="1.25"/><circle cx="441.08" cy="230.16" r="1.25"/><circle cx="443.35" cy="229.63" r="1.25"/><circle cx="446.47" cy="230.15" r="1.25"/><circle cx="436.48" cy="232.77" r="1.25"/><circle cx="438.96" cy="232.15" r="1.25"/><circle cx="441.69" cy="232.49" r="1.25"/><circle cx="444.57" cy="232.03" r="1.25"/><circle cx="440.30" cy="177.60" r="1.25"/><circle cx="440.30" cy="182.60" r="1.25"/><circle cx="440.30" cy="195.30" r="1.25"/><circle cx="438.80" cy="198.20" r="1.25"/><circle cx="441.80" cy="198.20" r="1.25"/><circle cx="440.30" cy="203.50" r="1.25"/></g><g fill="#7ddb7d" opacity="0.5"><circle cx="481.67" cy="153.75" r="1.75"/><circle cx="484.75" cy="153.83" r="1.75"/><circle cx="487.33" cy="153.97" r="1.75"/><circle cx="477.40" cy="156.35" r="1.75"/><circle cx="479.81" cy="156.46" r="1.75"/><circle cx="483.24" cy="156.53" r="1.75"/><circle cx="485.76" cy="156.89" r="1.75"/><circle cx="488.87" cy="156.53" r="1.75"/><circle cx="475.86" cy="159.20" r="1.75"/><circle cx="487.09" cy="159.47" r="1.75"/><circle cx="490.07" cy="159.47" r="1.75"/><circle cx="481.46" cy="162.03" r="1.75"/><circle cx="484.61" cy="161.56" r="1.75"/><circle cx="478.47" cy="164.19" r="1.75"/><circle cx="481.56" cy="164.14" r="1.75"/><circle cx="487.47" cy="164.23" r="1.75"/><circle cx="489.96" cy="164.31" r="1.75"/><circle cx="475.68" cy="167.20" r="1.75"/><circle cx="481.49" cy="166.80" r="1.75"/><circle cx="490.41" cy="166.88" r="1.75"/><circle cx="479.90" cy="169.56" r="1.75"/><circle cx="482.95" cy="169.57" r="1.75"/><circle cx="485.95" cy="169.47" r="1.75"/><circle cx="488.55" cy="169.36" r="1.75"/><circle cx="475.93" cy="172.20" r="1.75"/><circle cx="484.16" cy="171.98" r="1.75"/><circle cx="487.39" cy="172.35" r="1.75"/><circle cx="490.53" cy="171.90" r="1.75"/><circle cx="475.98" cy="174.52" r="1.75"/><circle cx="490.53" cy="174.76" r="1.75"/><circle cx="475.75" cy="177.38" r="1.75"/><circle cx="478.42" cy="177.45" r="1.75"/><circle cx="481.33" cy="177.36" r="1.75"/><circle cx="490.19" cy="177.32" r="1.75"/><circle cx="475.72" cy="179.76" r="1.75"/><circle cx="487.27" cy="179.96" r="1.75"/><circle cx="490.53" cy="180.15" r="1.75"/><circle cx="478.49" cy="182.62" r="1.75"/><circle cx="487.42" cy="182.85" r="1.75"/><circle cx="477.08" cy="185.23" r="1.75"/><circle cx="483.26" cy="185.41" r="1.75"/><circle cx="485.98" cy="185.47" r="1.75"/><circle cx="491.91" cy="185.02" r="1.75"/><circle cx="481.42" cy="187.87" r="1.75"/><circle cx="480.06" cy="190.39" r="1.75"/><circle cx="483.20" cy="190.26" r="1.75"/><circle cx="486.04" cy="190.26" r="1.75"/><circle cx="488.57" cy="190.60" r="1.75"/><circle cx="491.57" cy="190.58" r="1.75"/><circle cx="474.53" cy="192.95" r="1.75"/><circle cx="477.48" cy="193.17" r="1.75"/><circle cx="483.19" cy="193.06" r="1.75"/><circle cx="488.97" cy="193.18" r="1.75"/><circle cx="491.79" cy="193.17" r="1.75"/><circle cx="480.17" cy="195.71" r="1.75"/><circle cx="482.98" cy="195.82" r="1.75"/><circle cx="491.76" cy="195.82" r="1.75"/><circle cx="474.02" cy="198.45" r="1.75"/><circle cx="483.20" cy="198.39" r="1.75"/><circle cx="488.69" cy="198.08" r="1.75"/><circle cx="491.60" cy="198.21" r="1.75"/><circle cx="477.00" cy="200.65" r="1.75"/><circle cx="480.06" cy="200.97" r="1.75"/><circle cx="482.83" cy="200.68" r="1.75"/><circle cx="486.05" cy="200.57" r="1.75"/><circle cx="488.83" cy="200.94" r="1.75"/><circle cx="473.08" cy="203.54" r="1.75"/><circle cx="475.79" cy="203.66" r="1.75"/><circle cx="484.35" cy="203.34" r="1.75"/><circle cx="487.51" cy="203.14" r="1.75"/><circle cx="493.22" cy="203.35" r="1.75"/><circle cx="471.64" cy="206.25" r="1.75"/><circle cx="480.02" cy="206.21" r="1.75"/><circle cx="482.89" cy="206.11" r="1.75"/><circle cx="485.68" cy="206.20" r="1.75"/><circle cx="489.08" cy="206.02" r="1.75"/><circle cx="494.43" cy="206.02" r="1.75"/><circle cx="477.14" cy="208.32" r="1.75"/><circle cx="480.37" cy="208.51" r="1.75"/><circle cx="485.69" cy="208.71" r="1.75"/><circle cx="488.61" cy="208.65" r="1.75"/><circle cx="491.98" cy="208.56" r="1.75"/><circle cx="494.88" cy="208.36" r="1.75"/><circle cx="470.01" cy="211.29" r="1.75"/><circle cx="476.02" cy="211.29" r="1.75"/><circle cx="478.45" cy="211.04" r="1.75"/><circle cx="481.46" cy="211.12" r="1.75"/><circle cx="487.43" cy="210.92" r="1.75"/><circle cx="490.38" cy="211.43" r="1.75"/><circle cx="492.87" cy="211.04" r="1.75"/><circle cx="495.97" cy="211.24" r="1.75"/><circle cx="471.57" cy="213.97" r="1.75"/><circle cx="477.06" cy="214.00" r="1.75"/><circle cx="480.32" cy="213.77" r="1.75"/><circle cx="483.00" cy="213.89" r="1.75"/><circle cx="485.95" cy="213.94" r="1.75"/><circle cx="488.86" cy="213.77" r="1.75"/><circle cx="491.63" cy="213.83" r="1.75"/><circle cx="494.40" cy="213.59" r="1.75"/><circle cx="470.13" cy="216.56" r="1.75"/><circle cx="472.93" cy="216.25" r="1.75"/><circle cx="478.42" cy="216.12" r="1.75"/><circle cx="484.34" cy="216.69" r="1.75"/><circle cx="493.23" cy="216.11" r="1.75"/><circle cx="473.10" cy="218.70" r="1.75"/><circle cx="478.66" cy="218.99" r="1.75"/><circle cx="492.94" cy="218.79" r="1.75"/><circle cx="496.32" cy="219.10" r="1.75"/><circle cx="470.04" cy="221.45" r="1.75"/><circle cx="475.47" cy="221.34" r="1.75"/><circle cx="478.77" cy="221.44" r="1.75"/><circle cx="481.67" cy="221.46" r="1.75"/><circle cx="484.51" cy="221.54" r="1.75"/><circle cx="487.47" cy="221.72" r="1.75"/><circle cx="490.43" cy="221.69" r="1.75"/><circle cx="469.84" cy="224.29" r="1.75"/><circle cx="472.76" cy="224.20" r="1.75"/><circle cx="490.32" cy="224.18" r="1.75"/><circle cx="493.33" cy="224.27" r="1.75"/><circle cx="495.89" cy="224.03" r="1.75"/><circle cx="472.67" cy="226.91" r="1.75"/><circle cx="475.61" cy="226.77" r="1.75"/><circle cx="481.39" cy="226.86" r="1.75"/><circle cx="490.41" cy="226.57" r="1.75"/><circle cx="493.36" cy="226.90" r="1.75"/><circle cx="475.74" cy="229.43" r="1.75"/><circle cx="484.60" cy="229.67" r="1.75"/><circle cx="487.35" cy="229.32" r="1.75"/><circle cx="490.30" cy="229.47" r="1.75"/><circle cx="481.58" cy="231.82" r="1.75"/><circle cx="484.19" cy="231.90" r="1.75"/><circle cx="487.24" cy="231.99" r="1.75"/><circle cx="483.00" cy="65.90" r="1.75"/><circle cx="483.00" cy="68.40" r="1.75"/><circle cx="483.00" cy="70.90" r="1.75"/><circle cx="483.00" cy="73.40" r="1.75"/><circle cx="483.00" cy="75.90" r="1.75"/><circle cx="472.00" cy="79.00" r="1.75"/><circle cx="474.50" cy="78.60" r="1.75"/><circle cx="477.00" cy="79.20" r="1.75"/><circle cx="480.00" cy="78.80" r="1.75"/><circle cx="486.00" cy="78.80" r="1.75"/><circle cx="489.00" cy="79.00" r="1.75"/><circle cx="491.50" cy="78.70" r="1.75"/><circle cx="494.00" cy="79.30" r="1.75"/><circle cx="471.50" cy="82.50" r="1.75"/><circle cx="474.00" cy="83.00" r="1.75"/><circle cx="477.00" cy="82.60" r="1.75"/><circle cx="479.80" cy="83.20" r="1.75"/><circle cx="482.50" cy="82.80" r="1.75"/><circle cx="485.20" cy="83.00" r="1.75"/><circle cx="488.00" cy="82.60" r="1.75"/><circle cx="490.60" cy="83.10" r="1.75"/><circle cx="493.40" cy="82.60" r="1.75"/><circle cx="482.60" cy="98.30" r="1.75"/><circle cx="483.00" cy="105.00" r="1.75"/><circle cx="483.00" cy="119.00" r="1.75"/><circle cx="483.00" cy="125.70" r="1.75"/><circle cx="483.00" cy="131.90" r="1.75"/><circle cx="483.00" cy="134.90" r="1.75"/><circle cx="481.00" cy="134.90" r="1.75"/><circle cx="477.50" cy="141.80" r="1.75"/><circle cx="480.50" cy="141.80" r="1.75"/><circle cx="485.50" cy="141.80" r="1.75"/><circle cx="488.50" cy="141.80" r="1.75"/><circle cx="483.00" cy="145.00" r="1.75"/><circle cx="483.00" cy="148.00" r="1.75"/><circle cx="480.50" cy="148.50" r="1.75"/><circle cx="485.50" cy="148.50" r="1.75"/><circle cx="483.00" cy="151.00" r="1.75"/></g><g fill="#2a9438"><circle cx="481.67" cy="153.75" r="1.0"/><circle cx="484.75" cy="153.83" r="1.0"/><circle cx="487.33" cy="153.97" r="1.0"/><circle cx="477.40" cy="156.35" r="1.0"/><circle cx="479.81" cy="156.46" r="1.0"/><circle cx="483.24" cy="156.53" r="1.0"/><circle cx="485.76" cy="156.89" r="1.0"/><circle cx="488.87" cy="156.53" r="1.0"/><circle cx="475.86" cy="159.20" r="1.0"/><circle cx="487.09" cy="159.47" r="1.0"/><circle cx="490.07" cy="159.47" r="1.0"/><circle cx="481.46" cy="162.03" r="1.0"/><circle cx="484.61" cy="161.56" r="1.0"/><circle cx="478.47" cy="164.19" r="1.0"/><circle cx="481.56" cy="164.14" r="1.0"/><circle cx="487.47" cy="164.23" r="1.0"/><circle cx="489.96" cy="164.31" r="1.0"/><circle cx="475.68" cy="167.20" r="1.0"/><circle cx="481.49" cy="166.80" r="1.0"/><circle cx="490.41" cy="166.88" r="1.0"/><circle cx="479.90" cy="169.56" r="1.0"/><circle cx="482.95" cy="169.57" r="1.0"/><circle cx="485.95" cy="169.47" r="1.0"/><circle cx="488.55" cy="169.36" r="1.0"/><circle cx="475.93" cy="172.20" r="1.0"/><circle cx="484.16" cy="171.98" r="1.0"/><circle cx="487.39" cy="172.35" r="1.0"/><circle cx="490.53" cy="171.90" r="1.0"/><circle cx="475.98" cy="174.52" r="1.0"/><circle cx="490.53" cy="174.76" r="1.0"/><circle cx="475.75" cy="177.38" r="1.0"/><circle cx="478.42" cy="177.45" r="1.0"/><circle cx="481.33" cy="177.36" r="1.0"/><circle cx="490.19" cy="177.32" r="1.0"/><circle cx="475.72" cy="179.76" r="1.0"/><circle cx="487.27" cy="179.96" r="1.0"/><circle cx="490.53" cy="180.15" r="1.0"/><circle cx="478.49" cy="182.62" r="1.0"/><circle cx="487.42" cy="182.85" r="1.0"/><circle cx="477.08" cy="185.23" r="1.0"/><circle cx="483.26" cy="185.41" r="1.0"/><circle cx="485.98" cy="185.47" r="1.0"/><circle cx="491.91" cy="185.02" r="1.0"/><circle cx="481.42" cy="187.87" r="1.0"/><circle cx="480.06" cy="190.39" r="1.0"/><circle cx="483.20" cy="190.26" r="1.0"/><circle cx="486.04" cy="190.26" r="1.0"/><circle cx="488.57" cy="190.60" r="1.0"/><circle cx="491.57" cy="190.58" r="1.0"/><circle cx="474.53" cy="192.95" r="1.0"/><circle cx="477.48" cy="193.17" r="1.0"/><circle cx="483.19" cy="193.06" r="1.0"/><circle cx="488.97" cy="193.18" r="1.0"/><circle cx="491.79" cy="193.17" r="1.0"/><circle cx="480.17" cy="195.71" r="1.0"/><circle cx="482.98" cy="195.82" r="1.0"/><circle cx="491.76" cy="195.82" r="1.0"/><circle cx="474.02" cy="198.45" r="1.0"/><circle cx="483.20" cy="198.39" r="1.0"/><circle cx="488.69" cy="198.08" r="1.0"/><circle cx="491.60" cy="198.21" r="1.0"/><circle cx="477.00" cy="200.65" r="1.0"/><circle cx="480.06" cy="200.97" r="1.0"/><circle cx="482.83" cy="200.68" r="1.0"/><circle cx="486.05" cy="200.57" r="1.0"/><circle cx="488.83" cy="200.94" r="1.0"/><circle cx="473.08" cy="203.54" r="1.0"/><circle cx="475.79" cy="203.66" r="1.0"/><circle cx="484.35" cy="203.34" r="1.0"/><circle cx="487.51" cy="203.14" r="1.0"/><circle cx="493.22" cy="203.35" r="1.0"/><circle cx="471.64" cy="206.25" r="1.0"/><circle cx="480.02" cy="206.21" r="1.0"/><circle cx="482.89" cy="206.11" r="1.0"/><circle cx="485.68" cy="206.20" r="1.0"/><circle cx="489.08" cy="206.02" r="1.0"/><circle cx="494.43" cy="206.02" r="1.0"/><circle cx="477.14" cy="208.32" r="1.0"/><circle cx="480.37" cy="208.51" r="1.0"/><circle cx="485.69" cy="208.71" r="1.0"/><circle cx="488.61" cy="208.65" r="1.0"/><circle cx="491.98" cy="208.56" r="1.0"/><circle cx="494.88" cy="208.36" r="1.0"/><circle cx="470.01" cy="211.29" r="1.0"/><circle cx="476.02" cy="211.29" r="1.0"/><circle cx="478.45" cy="211.04" r="1.0"/><circle cx="481.46" cy="211.12" r="1.0"/><circle cx="487.43" cy="210.92" r="1.0"/><circle cx="490.38" cy="211.43" r="1.0"/><circle cx="492.87" cy="211.04" r="1.0"/><circle cx="495.97" cy="211.24" r="1.0"/><circle cx="471.57" cy="213.97" r="1.0"/><circle cx="477.06" cy="214.00" r="1.0"/><circle cx="480.32" cy="213.77" r="1.0"/><circle cx="483.00" cy="213.89" r="1.0"/><circle cx="485.95" cy="213.94" r="1.0"/><circle cx="488.86" cy="213.77" r="1.0"/><circle cx="491.63" cy="213.83" r="1.0"/><circle cx="494.40" cy="213.59" r="1.0"/><circle cx="470.13" cy="216.56" r="1.0"/><circle cx="472.93" cy="216.25" r="1.0"/><circle cx="478.42" cy="216.12" r="1.0"/><circle cx="484.34" cy="216.69" r="1.0"/><circle cx="493.23" cy="216.11" r="1.0"/><circle cx="473.10" cy="218.70" r="1.0"/><circle cx="478.66" cy="218.99" r="1.0"/><circle cx="492.94" cy="218.79" r="1.0"/><circle cx="496.32" cy="219.10" r="1.0"/><circle cx="470.04" cy="221.45" r="1.0"/><circle cx="475.47" cy="221.34" r="1.0"/><circle cx="478.77" cy="221.44" r="1.0"/><circle cx="481.67" cy="221.46" r="1.0"/><circle cx="484.51" cy="221.54" r="1.0"/><circle cx="487.47" cy="221.72" r="1.0"/><circle cx="490.43" cy="221.69" r="1.0"/><circle cx="469.84" cy="224.29" r="1.0"/><circle cx="472.76" cy="224.20" r="1.0"/><circle cx="490.32" cy="224.18" r="1.0"/><circle cx="493.33" cy="224.27" r="1.0"/><circle cx="495.89" cy="224.03" r="1.0"/><circle cx="472.67" cy="226.91" r="1.0"/><circle cx="475.61" cy="226.77" r="1.0"/><circle cx="481.39" cy="226.86" r="1.0"/><circle cx="490.41" cy="226.57" r="1.0"/><circle cx="493.36" cy="226.90" r="1.0"/><circle cx="475.74" cy="229.43" r="1.0"/><circle cx="484.60" cy="229.67" r="1.0"/><circle cx="487.35" cy="229.32" r="1.0"/><circle cx="490.30" cy="229.47" r="1.0"/><circle cx="481.58" cy="231.82" r="1.0"/><circle cx="484.19" cy="231.90" r="1.0"/><circle cx="487.24" cy="231.99" r="1.0"/><circle cx="483.00" cy="65.90" r="1.0"/><circle cx="483.00" cy="68.40" r="1.0"/><circle cx="483.00" cy="70.90" r="1.0"/><circle cx="483.00" cy="73.40" r="1.0"/><circle cx="483.00" cy="75.90" r="1.0"/><circle cx="472.00" cy="79.00" r="1.0"/><circle cx="474.50" cy="78.60" r="1.0"/><circle cx="477.00" cy="79.20" r="1.0"/><circle cx="480.00" cy="78.80" r="1.0"/><circle cx="486.00" cy="78.80" r="1.0"/><circle cx="489.00" cy="79.00" r="1.0"/><circle cx="491.50" cy="78.70" r="1.0"/><circle cx="494.00" cy="79.30" r="1.0"/><circle cx="471.50" cy="82.50" r="1.0"/><circle cx="474.00" cy="83.00" r="1.0"/><circle cx="477.00" cy="82.60" r="1.0"/><circle cx="479.80" cy="83.20" r="1.0"/><circle cx="482.50" cy="82.80" r="1.0"/><circle cx="485.20" cy="83.00" r="1.0"/><circle cx="488.00" cy="82.60" r="1.0"/><circle cx="490.60" cy="83.10" r="1.0"/><circle cx="493.40" cy="82.60" r="1.0"/><circle cx="482.60" cy="98.30" r="1.0"/><circle cx="483.00" cy="105.00" r="1.0"/><circle cx="483.00" cy="119.00" r="1.0"/><circle cx="483.00" cy="125.70" r="1.0"/><circle cx="483.00" cy="131.90" r="1.0"/><circle cx="483.00" cy="134.90" r="1.0"/><circle cx="481.00" cy="134.90" r="1.0"/><circle cx="477.50" cy="141.80" r="1.0"/><circle cx="480.50" cy="141.80" r="1.0"/><circle cx="485.50" cy="141.80" r="1.0"/><circle cx="488.50" cy="141.80" r="1.0"/><circle cx="483.00" cy="145.00" r="1.0"/><circle cx="483.00" cy="148.00" r="1.0"/><circle cx="480.50" cy="148.50" r="1.0"/><circle cx="485.50" cy="148.50" r="1.0"/><circle cx="483.00" cy="151.00" r="1.0"/></g><line x1="356.20" y1="216.20" x2="356.20" y2="230.00" stroke="#231f20" stroke-width="1.1"/><line x1="349.40" y1="216.20" x2="363.00" y2="216.20" stroke="#231f20" stroke-width="1.3"/><line x1="398.30" y1="219.30" x2="398.30" y2="226.00" stroke="#231f20" stroke-width="1.1"/><line x1="391.00" y1="219.30" x2="405.60" y2="219.30" stroke="#231f20" stroke-width="1.3"/><line x1="440.60" y1="208.50" x2="440.60" y2="221.00" stroke="#231f20" stroke-width="1.1"/><line x1="433.60" y1="208.50" x2="447.60" y2="208.50" stroke="#231f20" stroke-width="1.3"/><line x1="483.00" y1="100.40" x2="483.00" y2="157.00" stroke="#231f20" stroke-width="1.1"/><line x1="480.50" y1="100.40" x2="485.50" y2="100.40" stroke="#231f20" stroke-width="1.3"/><line x1="328.20" y1="98.00" x2="328.20" y2="252.60" stroke="#231f20" stroke-width="1.3"/><line x1="323.80" y1="98.00" x2="333.00" y2="98.00" stroke="#231f20" stroke-width="1.3"/><line x1="324.80" y1="252.00" x2="328.20" y2="252.00" stroke="#231f20" stroke-width="1.2"/><text x="321.1" y="255.65" font-family="'Liberation Sans', sans-serif" font-size="10.5" text-anchor="end" font-weight="normal" fill="#231f20">0.0</text><line x1="324.80" y1="221.20" x2="328.20" y2="221.20" stroke="#231f20" stroke-width="1.2"/><text x="321.1" y="224.85" font-family="'Liberation Sans', sans-serif" font-size="10.5" text-anchor="end" font-weight="normal" fill="#231f20">2.0</text><line x1="324.80" y1="190.40" x2="328.20" y2="190.40" stroke="#231f20" stroke-width="1.2"/><text x="321.1" y="194.05" font-family="'Liberation Sans', sans-serif" font-size="10.5" text-anchor="end" font-weight="normal" fill="#231f20">4.0</text><line x1="324.80" y1="159.60" x2="328.20" y2="159.60" stroke="#231f20" stroke-width="1.2"/><text x="321.1" y="163.25" font-family="'Liberation Sans', sans-serif" font-size="10.5" text-anchor="end" font-weight="normal" fill="#231f20">6.0</text><line x1="324.80" y1="128.80" x2="328.20" y2="128.80" stroke="#231f20" stroke-width="1.2"/><text x="321.1" y="132.45000000000002" font-family="'Liberation Sans', sans-serif" font-size="10.5" text-anchor="end" font-weight="normal" fill="#231f20">8.0</text><line x1="324.80" y1="98.00" x2="328.20" y2="98.00" stroke="#231f20" stroke-width="1.2"/><text x="321.1" y="101.65" font-family="'Liberation Sans', sans-serif" font-size="10.5" text-anchor="end" font-weight="normal" fill="#231f20">10.0</text><line x1="328.20" y1="63.00" x2="328.20" y2="84.00" stroke="#231f20" stroke-width="1.3"/><line x1="323.80" y1="84.00" x2="333.00" y2="84.00" stroke="#231f20" stroke-width="1.3"/><line x1="324.80" y1="66.80" x2="328.20" y2="66.80" stroke="#231f20" stroke-width="1.2"/><line x1="326.00" y1="75.40" x2="328.20" y2="75.40" stroke="#231f20" stroke-width="1.0"/><text x="321.1" y="70.45" font-family="'Liberation Sans', sans-serif" font-size="10.5" text-anchor="end" font-weight="normal" fill="#231f20">50.0</text><text x="321.1" y="87.65" font-family="'Liberation Sans', sans-serif" font-size="10.5" text-anchor="end" font-weight="normal" fill="#231f20">10.0</text><line x1="327.60" y1="252.00" x2="512.00" y2="252.00" stroke="#231f20" stroke-width="1.5"/><line x1="355.90" y1="252.00" x2="355.90" y2="256.00" stroke="#231f20" stroke-width="1.2"/><line x1="398.30" y1="252.00" x2="398.30" y2="256.00" stroke="#231f20" stroke-width="1.2"/><line x1="440.60" y1="252.00" x2="440.60" y2="256.00" stroke="#231f20" stroke-width="1.2"/><line x1="483.00" y1="252.00" x2="483.00" y2="256.00" stroke="#231f20" stroke-width="1.2"/><text x="360.2" y="265.3" font-family="'Liberation Sans', sans-serif" font-size="10.1" text-anchor="end" font-weight="normal" fill="#231f20" transform="rotate(-45 360.2 265.3)">LoVIC</text><text x="401.1" y="265.4" font-family="'Liberation Sans', sans-serif" font-size="10.1" text-anchor="end" font-weight="normal" fill="#231f20" transform="rotate(-45 401.1 265.4)">WiN normalized</text><text x="443.40000000000003" y="265.4" font-family="'Liberation Sans', sans-serif" font-size="10.1" text-anchor="end" font-weight="normal" fill="#231f20" transform="rotate(-45 443.40000000000003 265.4)">WiN partially corrected</text><text x="486.0" y="265.4" font-family="'Liberation Sans', sans-serif" font-size="10.1" text-anchor="end" font-weight="normal" fill="#231f20" textLength="113.4" lengthAdjust="spacingAndGlyphs" transform="rotate(-45 486.0 265.4)">WiN persistent &lt; 30 IU/dL</text><line x1="356.30" y1="42.50" x2="483.00" y2="42.50" stroke="#2b2b2b" stroke-width="1.15"/><line x1="356.30" y1="36.90" x2="356.30" y2="47.30" stroke="#2b2b2b" stroke-width="1.25"/><line x1="483.00" y1="36.90" x2="483.00" y2="47.30" stroke="#2b2b2b" stroke-width="1.25"/><line x1="356.30" y1="61.40" x2="397.60" y2="61.40" stroke="#2b2b2b" stroke-width="1.15"/><line x1="356.30" y1="55.90" x2="356.30" y2="66.50" stroke="#2b2b2b" stroke-width="1.25"/><line x1="397.60" y1="55.90" x2="397.60" y2="66.50" stroke="#2b2b2b" stroke-width="1.25"/><line x1="440.30" y1="61.40" x2="483.00" y2="61.40" stroke="#2b2b2b" stroke-width="1.15"/><line x1="440.30" y1="55.90" x2="440.30" y2="66.50" stroke="#2b2b2b" stroke-width="1.25"/><line x1="483.00" y1="55.90" x2="483.00" y2="66.50" stroke="#2b2b2b" stroke-width="1.25"/><text y="35.9" font-size="9.8" fill="#231f20"><tspan x="402.30" font-style="italic">P</tspan><tspan x="411.60" dy="0.7" font-size="9.4">&lt;</tspan><tspan x="418.80" dy="-0.7">.</tspan><tspan x="422.30">001</tspan></text><text y="54.8" font-size="9.8" fill="#231f20"><tspan x="443.80" font-style="italic">P</tspan><tspan x="453.10" dy="0.7" font-size="9.4">&lt;</tspan><tspan x="460.30" dy="-0.7">.</tspan><tspan x="463.80">001</tspan></text><text x="376.7" y="55.0" font-family="'Liberation Sans', sans-serif" font-size="9.8" text-anchor="middle" font-weight="normal" fill="#231f20">ns</text><line x1="474.70" y1="81.20" x2="490.70" y2="81.20" stroke="#231f20" stroke-width="1.2"/><line x1="483.00" y1="98.00" x2="483.00" y2="100.40" stroke="#231f20" stroke-width="1.2"/><g fill="#464646"><rect x="0" y="0" width="520" height="1.05"/><rect x="0" y="0" width="1.2" height="356"/><rect x="518.65" y="0" width="1.35" height="356"/><rect x="0" y="354.7" width="520" height="1.3"/></g></svg>
</body></html>
